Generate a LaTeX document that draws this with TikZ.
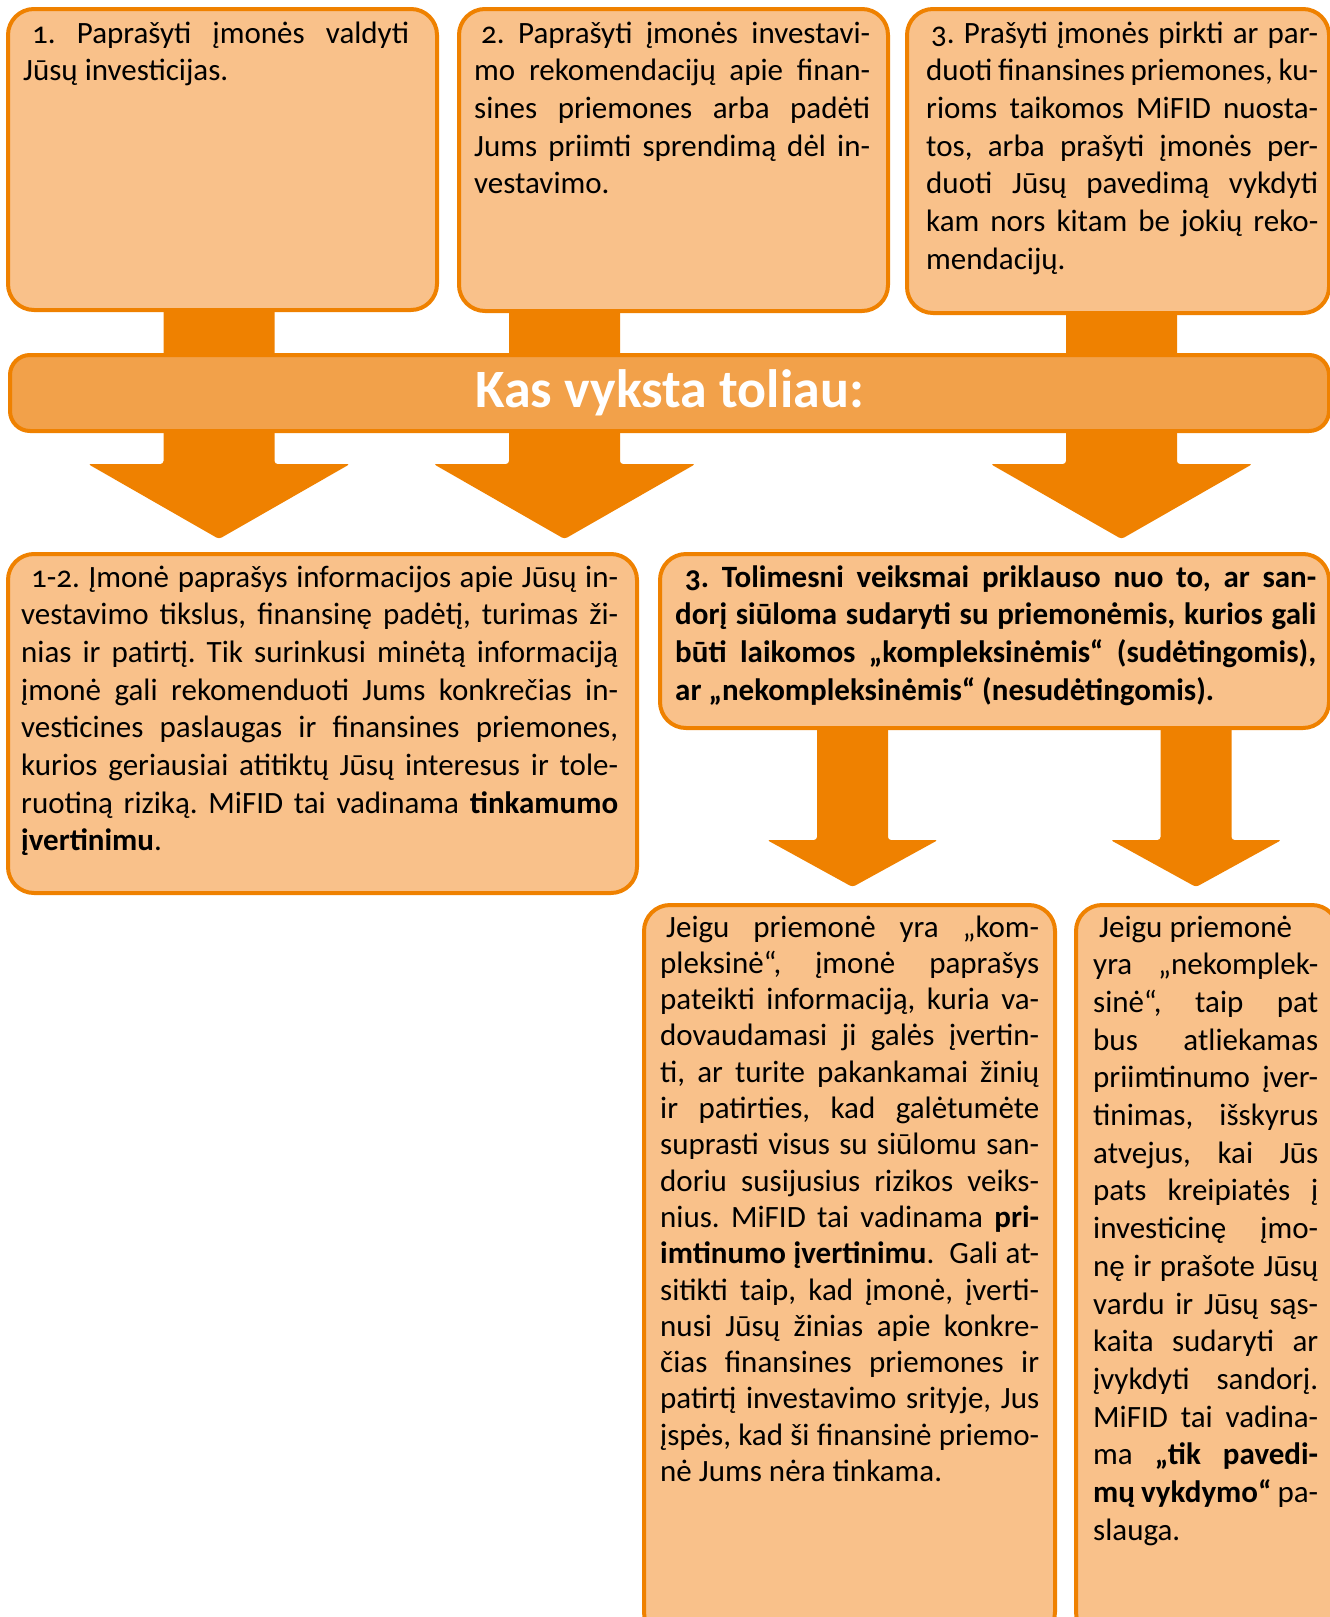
\documentclass[tikz,border=0pt]{standalone}
\usepackage{fontspec}
\setmainfont{Carlito}[Numbers=OldStyle]
\usetikzlibrary{calc,backgrounds}

\definecolor{mifidorange}{RGB}{239,129,0}
\definecolor{mifidlight}{RGB}{249,193,138}
\definecolor{mifidbanner}{RGB}{242,161,74}

\hyphenpenalty=10000
\exhyphenpenalty=10000
\tolerance=10000
\frenchspacing

\tikzset{
  card/.style={draw=mifidorange, line width=4pt, fill=mifidlight, rounded corners=26pt,
    anchor=north west, outer sep=2pt, inner sep=0pt},
  banner/.style={draw=mifidorange, line width=4pt, fill=mifidbanner, rounded corners=20pt,
    outer sep=2pt, text=white, font=\fontsize{54}{60}\selectfont\bfseries},
  cardtext/.style={anchor=base west, inner sep=0pt, align=justify,
    font=\fontsize{31}{37.7}\selectfont},
  arrowbody/.style={fill=mifidorange, rounded corners=3pt},
}

% fat arrow: from, to, stem half width, head half width, head length
\newcommand\fatarrow[5]{%
  \fill[arrowbody] let \p1=(#1), \p2=(#2) in
    (\x1-#3pt,\y1) -- (\x1-#3pt,\y2+#5pt) -- (\x1-#4pt,\y2+#5pt) -- (\x2,\y2)
    -- (\x1+#4pt,\y2+#5pt) -- (\x1+#3pt,\y2+#5pt) -- (\x1+#3pt,\y1) -- cycle;}

\begin{document}
\begin{tikzpicture}[x=1pt, y=-1pt]
  \useasboundingbox (0,0) rectangle (1330,1617);

  \node[card, minimum width=429pt, minimum height=301pt] (c1) at (6,7)    {};
  \node[card, minimum width=429pt, minimum height=302pt] (c2) at (457,7)  {};
  \node[card, minimum width=422pt, minimum height=304pt] (c3) at (905,7)  {};
  \node[card, minimum width=629pt, minimum height=339pt] (c4) at (6,552)  {};
  \node[card, minimum width=669pt, minimum height=174pt] (c5) at (658,552) {};
  \node[card, minimum width=411pt, minimum height=733pt] (c6) at (642,903) {};
  \node[card, minimum width=262pt, minimum height=733pt] (c7) at (1074,903) {};
  \node[banner, minimum width=1319pt, minimum height=76pt] (kas) at (669.5,393) {Kas vyksta toliau:};

  \node[cardtext, text width=386pt] (t1) at (23,43) {\hspace*{9pt}1. Paprašyti įmonės valdyti\linebreak
    Jūsų investicijas.};
  \node[cardtext, text width=396pt] (t2) at (474,43) {\hspace*{7pt}2. Paprašyti įmonės investavi-\linebreak
    mo rekomendacijų apie finan-\linebreak sines priemones arba padėti\linebreak
    Jums priimti sprendimą dėl in-\linebreak vestavimo.};
  \node[cardtext, text width=392pt] (t3) at (926,43) {\hspace*{5pt}3. Prašyti įmonės pirkti ar par-\linebreak
    duoti finansines priemones, ku-\linebreak rioms taikomos MiFID nuosta-\linebreak
    tos, arba prašyti įmonės per-\linebreak duoti Jūsų pavedimą vykdyti\linebreak
    kam nors kitam be jokių reko-\linebreak mendacijų.};
  \node[cardtext, text width=597pt] (t4) at (21,587) {\hspace*{10pt}1-2. Įmonė paprašys informacijos apie Jūsų in-\linebreak
    vestavimo tikslus, finansinę padėtį, turimas ži-\linebreak
    nias ir patirtį. Tik surinkusi minėtą informaciją\linebreak
    įmonė gali rekomenduoti Jums konkrečias in-\linebreak
    vesticines paslaugas ir finansines priemones,\linebreak
    kurios geriausiai atitiktų Jūsų interesus ir tole-\linebreak
    ruotiną riziką. MiFID tai vadinama \textbf{tinkamumo\linebreak įvertinimu}.};
  \node[cardtext, text width=641pt] (t5) at (675,587) {\bfseries\hspace*{10pt}3. Tolimesni veiksmai priklauso nuo to, ar san-\linebreak
    dorį siūloma sudaryti su priemonėmis, kurios gali\linebreak
    būti laikomos „kompleksinėmis“ (sudėtingomis),\linebreak
    ar „nekompleksinėmis“ (nesudėtingomis).};
  \node[cardtext, text width=379pt, font=\fontsize{31}{36.3}\selectfont] (t6) at (660,937) {\hspace*{6pt}Jeigu priemonė yra „kom-\linebreak
    pleksinė“, įmonė paprašys\linebreak pateikti informaciją, kuria va-\linebreak
    dovaudamasi ji galės įvertin-\linebreak ti, ar turite pakankamai žinių\linebreak
    ir patirties, kad galėtumėte\linebreak suprasti visus su siūlomu san-\linebreak
    doriu susijusius rizikos veiks-\linebreak nius. MiFID tai vadinama \textbf{pri-\linebreak
    imtinumo įvertinimu}.~ Gali at-\linebreak sitikti taip, kad įmonė, įverti-\linebreak
    nusi Jūsų žinias apie konkre-\linebreak čias finansines priemones ir\linebreak
    patirtį investavimo srityje, Jus\linebreak įspės, kad ši finansinė priemo-\linebreak
    nė Jums nėra tinkama.};
  \node[cardtext, text width=225pt] (t7) at (1093,937) {\hspace*{6pt}Jeigu priemonė\newline
    yra „nekomplek-\linebreak sinė“, taip pat\linebreak bus atliekamas\linebreak
    priimtinumo įver-\linebreak tinimas, išskyrus\linebreak atvejus, kai Jūs\linebreak
    pats kreipiatės į\linebreak investicinę įmo-\linebreak nę ir prašote Jūsų\linebreak
    vardu ir Jūsų sąs-\linebreak kaita sudaryti ar\linebreak įvykdyti sandorį.\linebreak
    MiFID tai vadina-\linebreak ma \textbf{„tik pavedi-\linebreak mų vykdymo“} pa-\linebreak slauga.};

  \coordinate (s1) at (219,300);    \coordinate (e1) at (219,539);
  \coordinate (s2) at (564.5,300);  \coordinate (e2) at (564.5,539);
  \coordinate (s3) at (1121.5,300); \coordinate (e3) at (1121.5,539);
  \coordinate (s4) at (852.5,720);  \coordinate (e4) at (852.5,887);
  \coordinate (s5) at (1196,720);   \coordinate (e5) at (1196,887);
  \begin{scope}[on background layer]
    \fatarrow{s1}{e1}{55.5}{131}{75}
    \fatarrow{s2}{e2}{55.5}{131}{75}
    \fatarrow{s3}{e3}{55.5}{131}{75}
    \fatarrow{s4}{e4}{35.5}{85.5}{47}
    \fatarrow{s5}{e5}{35.5}{85.5}{47}
  \end{scope}
\end{tikzpicture}
\end{document}
